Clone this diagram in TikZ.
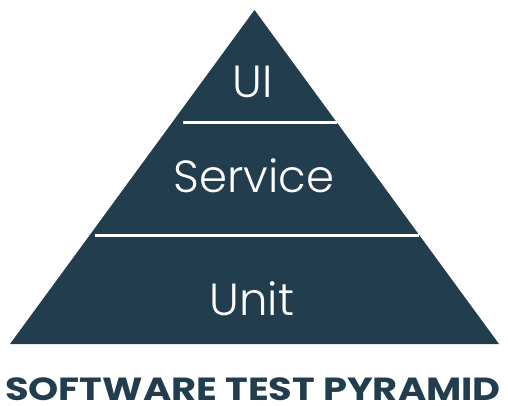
\documentclass[tikz,border=0pt]{standalone}
\usepackage{fontspec}
\setmainfont{Poppins}
\newfontfamily\lightfont{Poppins Light}
\definecolor{slate}{RGB}{34,61,78}
\begin{document}
\begin{tikzpicture}[x=1pt,y=-1pt,
  label/.style={text=white,font=\lightfont\fontsize{45}{45}\selectfont,anchor=base,inner sep=0pt},
  sep/.style={draw=white,line width=3pt}]
\useasboundingbox (0,0) rectangle (508,406);
\coordinate (apex) at (254.5,10);
\coordinate (bl) at (10,344);
\coordinate (br) at (499,344);
\fill[slate] (apex) -- (bl) -- (br) -- cycle;
\coordinate (s1a) at (183,122.5);
\coordinate (s1b) at (336.9,122.5);
\coordinate (s2a) at (95,235);
\coordinate (s2b) at (419.2,235);
\draw[sep] (s1a) -- (s1b);
\draw[sep] (s2a) -- (s2b);
\node[label] (ui) at (253,98) {UI};
\node[label] (service) at (254,193) {Service};
\node[label] (unit) at (252,315) {Unit};
\node[anchor=base,inner sep=0pt,xscale=1.2,text=slate,font=\bfseries\fontsize{32}{32}\selectfont] (title) at (253,400) {SOFTWARE TEST PYRAMID};
\end{tikzpicture}
\end{document}
